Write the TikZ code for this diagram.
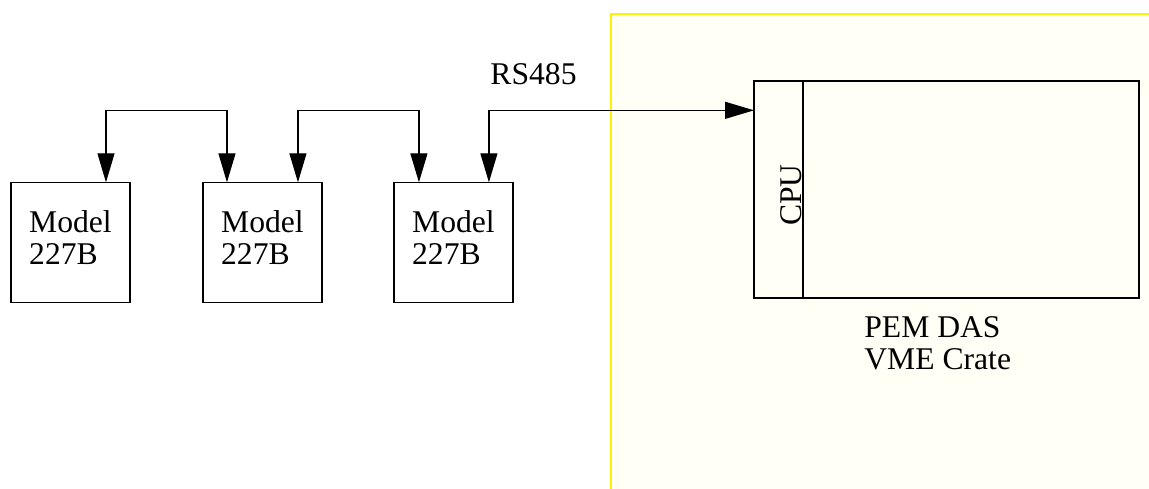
\documentclass[tikz,border=0pt]{standalone}
\usepackage{fontspec}
\setmainfont{Liberation Serif}
\usetikzlibrary{arrows.meta, positioning, calc}
\definecolor{cratebg}{RGB}{255,255,245}

\begin{document}
\begin{tikzpicture}[
    x=0.02cm, y=-0.02cm,
    model/.style={
        draw, line width=0.7pt, outer sep=0pt, inner sep=0pt,
        minimum width=2.38cm, minimum height=2.4cm, text depth=0.2cm,
        font=\fontsize{18}{18.2}\selectfont, align=left
    },
    slot/.style={
        draw, line width=0.7pt, outer sep=0pt, inner sep=0pt,
        minimum height=4.34cm
    },
    link/.style={{Triangle[length=0.58cm,width=0.34cm]}-{Triangle[length=0.58cm,width=0.34cm]},
        line width=0.7pt},
    lbl/.style={font=\fontsize{18}{18.2}\selectfont, inner sep=0pt, align=left}
]
    \useasboundingbox (0,0) rectangle (1149,489);

    % VME crate area
    \fill[cratebg] (611,14) rectangle (1149,489);
    \draw[yellow, line width=1.2pt] (611,489) -- (611,14) -- (1149,14);

    % Model 227B units
    \node[model] (m1) at (70.5,242.3) {Model\\227B};
    \node[model, right=1.46cm of m1] (m2) {Model\\227B};
    \node[model, right=1.44cm of m2] (m3) {Model\\227B};

    % Crate with CPU board
    \node[slot, minimum width=7.7cm] (crate) at (946.5,189.5) {};
    \node[slot, minimum width=0.98cm, anchor=north west] (cpu) at (crate.north west) {};
    \node[lbl, rotate=90, anchor=base] (cputxt) at (801,195) {CPU};
    \node[lbl, anchor=north west] (cratelbl) at (864,316) {PEM DAS\\VME Crate};

    % RS485 daisy chain
    \draw[link] ([xshift=-0.48cm]m1.north east) -- ++(0,1.44cm) -| ([xshift=0.48cm]m2.north west);
    \draw[link] ([xshift=-0.48cm]m2.north east) -- ++(0,1.44cm) -| ([xshift=0.5cm]m3.north west);
    \draw[link] ([xshift=-0.48cm]m3.north east) -- ++(0,1.44cm) coordinate (bend) -- (bend -| cpu.west);
    \node[lbl, anchor=base] (rs) at (533.5,85) {RS485};
\end{tikzpicture}
\end{document}
